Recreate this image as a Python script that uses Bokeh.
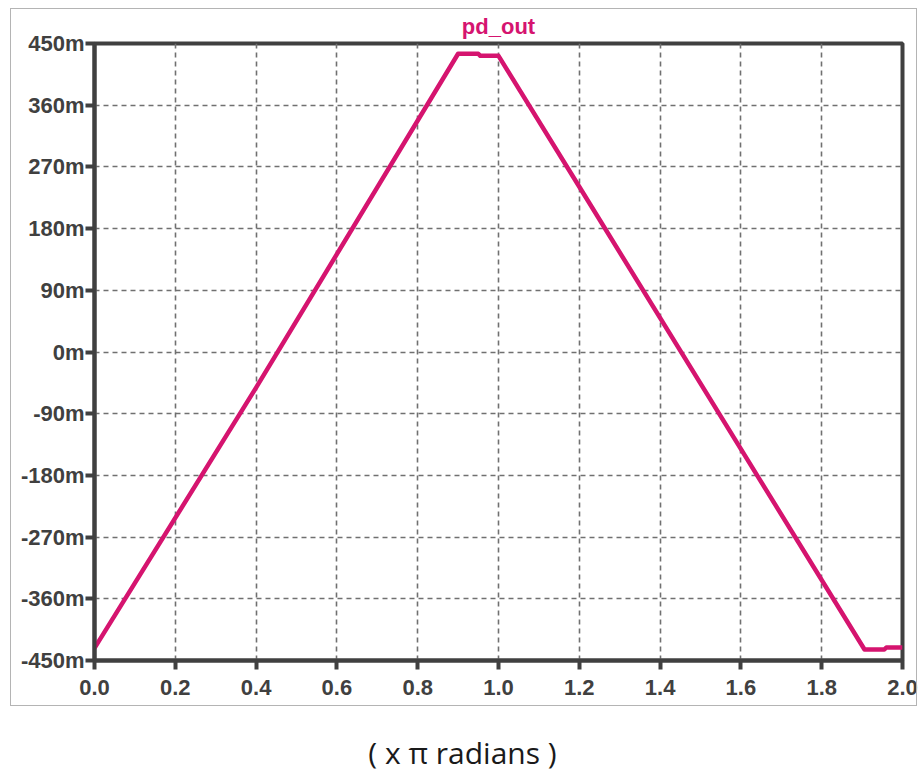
from bokeh.plotting import figure
from bokeh.layouts import column
from bokeh.models import FixedTicker, Range1d, InlineStyleSheet
from bokeh.core.properties import value
from bokeh.embed import file_html
from bokeh.resources import INLINE

# data (x in units of pi radians, y in "m" units)
x_vals = [0.0, 0.40, 0.90, 0.95, 0.955, 1.0, 1.2, 1.906, 1.955, 1.96, 2.0]
y_vals = [-432, -52, 435, 435, 432, 432, 241, -434, -434, -431, -431]

x_ticks = [0.0, 0.2, 0.4, 0.6, 0.8, 1.0, 1.2, 1.4, 1.6, 1.8, 2.0]
x_tick_labels = ["0.0", "0.2", "0.4", "0.6", "0.8", "1.0", "1.2", "1.4", "1.6", "1.8", "2.0"]
y_ticks = [-450, -360, -270, -180, -90, 0, 90, 180, 270, 360, 450]
y_tick_labels = ["-450m", "-360m", "-270m", "-180m", "-90m", "0m", "90m", "180m", "270m", "360m", "450m"]

title_text = "pd_out"
xlabel_text = "( x \u03c0 radians )"

DARK = "#404040"
MAG = "#d5146f"

p = figure(width=919, height=715, output_backend="svg", toolbar_location=None,
           x_range=Range1d(0, 2), y_range=Range1d(-450, 450),
           min_border_left=94, min_border_right=17, min_border_top=43, min_border_bottom=55)
p.border_fill_color = "white"
p.background_fill_color = "white"

p.title.text = title_text
p.title.align = "center"
p.title.text_color = MAG
p.title.text_font = "Liberation Sans"
p.title.text_font_style = "bold"
p.title.text_font_size = "22px"
p.title.standoff = 10

p.outline_line_color = DARK
p.outline_line_width = 4
p.outline_line_alpha = 1

for ax in (p.xaxis[0], p.yaxis[0]):
    ax.axis_line_color = DARK
    ax.axis_line_width = 4
    ax.major_tick_line_color = DARK
    ax.major_tick_line_width = 4
    ax.major_tick_out = 9
    ax.major_tick_in = 0
    ax.minor_tick_line_color = None
    ax.major_label_text_font = "Liberation Sans"
    ax.major_label_text_font_style = "bold"
    ax.major_label_text_font_size = "22px"
    ax.major_label_text_color = DARK

p.xaxis[0].ticker = FixedTicker(ticks=x_ticks)
p.xaxis[0].major_label_overrides = dict(zip(x_ticks, x_tick_labels))
p.xaxis[0].major_label_standoff = 10
p.yaxis[0].ticker = FixedTicker(ticks=y_ticks)
p.yaxis[0].major_label_overrides = dict(zip(y_ticks, y_tick_labels))
p.yaxis[0].major_label_standoff = 1

p.grid.grid_line_color = "#707070"
p.grid.grid_line_width = 1.6
p.grid.grid_line_dash = "5 4"

p.line(x_vals, y_vals, line_color=MAG, line_width=4.5, line_join="round")

p.stylesheets = [InlineStyleSheet(css=""":host::after { content: ""; position: absolute;
  left: 10px; top: 8px; width: 907px; height: 698px; border: 1px solid #b4b4b4;
  pointer-events: none; }""")]

# x-axis caption strip below the chart; its frame is aligned with the chart's
# frame by the column layout, so its x range is given in page pixels 94..902
cap = figure(width=919, height=54, output_backend="svg", toolbar_location=None,
             x_range=Range1d(94, 902), y_range=Range1d(0, 54),
             x_axis_type=None, y_axis_type=None,
             min_border_left=0, min_border_right=0, min_border_top=0, min_border_bottom=0,
             outline_line_color=None)
cap.grid.visible = False
cap.title.text = ""
cap.title.standoff = 0
cap.title.text_font_size = "0px"
cap.border_fill_color = "white"
cap.background_fill_color = "white"
cap.text(x=[462], y=[17], text=[xlabel_text], text_font=value("Open Sans"),
         text_font_size="30px", text_color="#1a1a1a",
         text_align="center", text_baseline="middle")

layout = column(p, cap, spacing=0)
open("out.html", "w").write(file_html(layout, INLINE))
